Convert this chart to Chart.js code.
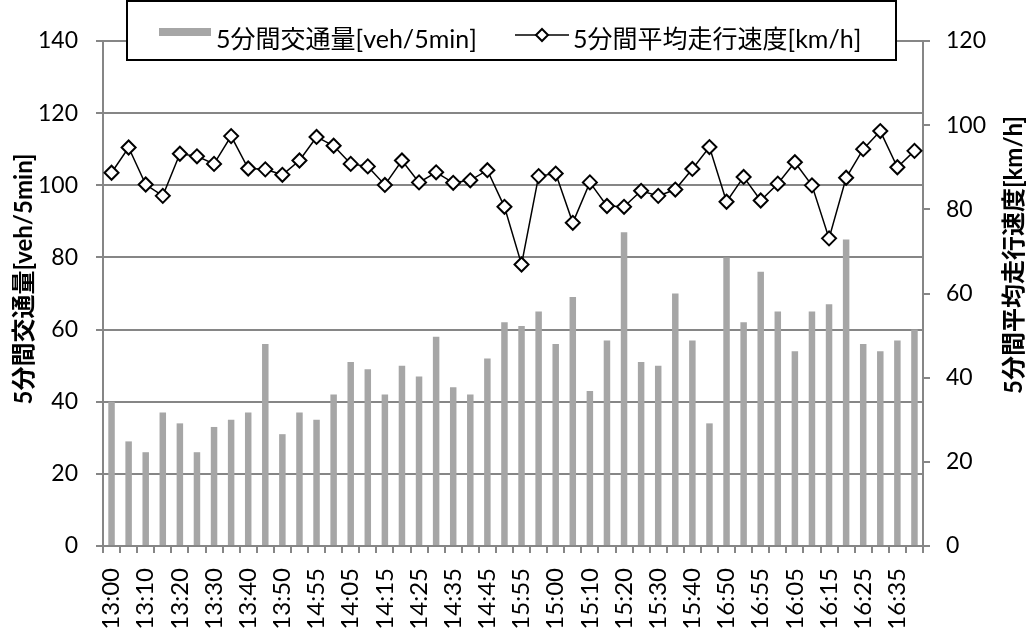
<!DOCTYPE html>
<html lang="ja">
<head>
<meta charset="utf-8">
<script src="https://cdn.jsdelivr.net/npm/chart.js@4.4.1/dist/chart.umd.min.js"></script>
<style>
  html, body { margin: 0; padding: 0; background: #fff; }
  #wrap { position: relative; width: 1029px; height: 637px; }
  #legend {
    position: absolute; left: 126px; top: 0; width: 767px; height: 57px;
    border: 2px solid #000; background: #fff;
    font-family: Lato, "Noto Sans CJK JP", sans-serif; font-size: 25px; color: #000;
  }
  #legend .item { position: absolute; top: 6px; height: 57px; display: flex; align-items: center; white-space: nowrap; }
  #legend .bar-swatch { width: 52px; height: 8px; background: #a6a6a6; margin-right: 5px; margin-top: -10px; }
  #legend canvas { margin-right: 4px; margin-top: -3px; }
</style>
</head>
<body>
<div id="wrap">
  <canvas id="chart" width="1029" height="637"></canvas>
  <div id="legend"></div>
</div>
<script>
const FONT = 'Lato, "Noto Sans CJK JP", sans-serif';

const volumeLabel = '5分間交通量[veh/5min]';
const speedLabel = '5分間平均走行速度[km/h]';

// 5-minute slots; only every other one is printed under the axis
const timeLabels = [
  '13:00', '13:05', '13:10', '13:15', '13:20', '13:25', '13:30', '13:35',
  '13:40', '13:45', '13:50', '13:55', '14:55', '14:00', '14:05', '14:10',
  '14:15', '14:20', '14:25', '14:30', '14:35', '14:40', '14:45', '14:50',
  '15:55', '15:50', '15:00', '15:05', '15:10', '15:15', '15:20', '15:25',
  '15:30', '15:35', '15:40', '15:45', '16:50', '16:45', '16:55', '16:00',
  '16:05', '16:10', '16:15', '16:20', '16:25', '16:30', '16:35', '16:40'
];

// traffic volume per 5 minutes [veh/5min]
const volume = [
  40, 29, 26, 37, 34, 26, 33, 35, 37, 56,
  31, 37, 35, 42, 51, 49, 42, 50, 47, 58,
  44, 42, 52, 62, 61, 65, 56, 69, 43, 57,
  87, 51, 50, 70, 57, 34, 80, 62, 76, 65,
  54, 65, 67, 85, 56, 54, 57, 60
];

// average running speed per 5 minutes [km/h]
const speed = [
  88.7, 94.7, 85.9, 83.2, 93.2, 92.6, 90.8, 97.4, 89.7, 89.5,
  88.2, 91.6, 97.2, 95.1, 90.8, 90.2, 85.8, 91.6, 86.4, 88.8,
  86.3, 86.9, 89.3, 80.6, 66.9, 87.9, 88.5, 76.8, 86.4, 80.8,
  80.6, 84.4, 83.2, 84.7, 89.6, 94.8, 81.8, 87.7, 82.1, 86.1,
  91.2, 85.7, 73.1, 87.5, 94.3, 98.6, 90.0, 93.9
];

const volumeTicks = { min: 0, max: 140, step: 20 };
const speedTicks = { min: 0, max: 120, step: 20 };

const AXIS_GREY = '#868686';

// both axis titles read bottom-to-top
const axisTitles = {
  id: 'axisTitles',
  afterDraw(chart) {
    const { ctx } = chart;
    ctx.save();
    ctx.font = 'bold 24px ' + FONT;
    ctx.fillStyle = '#000';
    ctx.textAlign = 'center';
    ctx.textBaseline = 'middle';
    [[24, 279, volumeLabel], [1014, 255, speedLabel]].forEach(([x, y, text]) => {
      ctx.save();
      ctx.translate(x, y);
      ctx.rotate(-Math.PI / 2);
      ctx.fillText(text, 0, 0);
      ctx.restore();
    });
    ctx.restore();
  }
};

const tickFont = { family: FONT, size: 23 };

const chart = new Chart(document.getElementById('chart'), {
  data: {
    labels: timeLabels,
    datasets: [
      {
        type: 'line',
        label: speedLabel,
        data: speed,
        yAxisID: 'ySpeed',
        borderColor: '#000',
        borderWidth: 1.5,
        tension: 0,
        pointStyle: 'rectRot',
        pointRadius: 7,
        pointBorderWidth: 2,
        pointBackgroundColor: '#fff',
        pointBorderColor: '#000',
        order: 0
      },
      {
        type: 'bar',
        label: volumeLabel,
        data: volume,
        yAxisID: 'yVolume',
        backgroundColor: '#a6a6a6',
        barPercentage: 0.38,
        categoryPercentage: 1,
        order: 1
      }
    ]
  },
  options: {
    responsive: false,
    animation: false,
    devicePixelRatio: 1,
    layout: { padding: { top: 41, left: 0, right: 0, bottom: 0 } },
    plugins: {
      legend: { display: false },
      tooltip: { enabled: false }
    },
    scales: {
      x: {
        afterFit: (s) => { s.height = 91; },
        grid: { offset: true, drawOnChartArea: false, color: AXIS_GREY, lineWidth: 2, tickLength: 7 },
        border: { color: AXIS_GREY, width: 2 },
        ticks: {
          autoSkip: false,
          minRotation: 90,
          maxRotation: 90,
          padding: 15,
          color: '#000',
          font: { family: FONT, size: 24 },
          callback: (v, i) => (i % 2 ? '' : timeLabels[i])
        }
      },
      yVolume: {
        position: 'left',
        min: volumeTicks.min,
        max: volumeTicks.max,
        afterFit: (s) => { s.width = 103; },
        grid: { color: AXIS_GREY, lineWidth: 2, tickLength: 7 },
        border: { color: AXIS_GREY, width: 2 },
        ticks: { stepSize: volumeTicks.step, padding: 18, color: '#000', font: tickFont }
      },
      ySpeed: {
        position: 'right',
        min: speedTicks.min,
        max: speedTicks.max,
        afterFit: (s) => { s.width = 106; },
        grid: { drawOnChartArea: false, color: AXIS_GREY, lineWidth: 2, tickLength: 7 },
        border: { color: AXIS_GREY, width: 2 },
        ticks: { stepSize: speedTicks.step, padding: 16, color: '#000', font: tickFont }
      }
    }
  },
  plugins: [axisTitles]
});

// legend box laid over the top of the plot
const legend = document.getElementById('legend');
const barItem = document.createElement('div');
barItem.className = 'item';
barItem.style.left = '31px';
barItem.innerHTML = '<span class="bar-swatch"></span>';
barItem.appendChild(document.createTextNode(volumeLabel));
legend.appendChild(barItem);

const lineItem = document.createElement('div');
lineItem.className = 'item';
lineItem.style.left = '387px';
const sw = document.createElement('canvas');
sw.width = 54; sw.height = 20;
const sctx = sw.getContext('2d');
sctx.strokeStyle = '#000';
sctx.lineWidth = 1.5;
sctx.beginPath(); sctx.moveTo(0, 10); sctx.lineTo(54, 10); sctx.stroke();
sctx.fillStyle = '#fff';
sctx.lineWidth = 2;
sctx.beginPath();
sctx.moveTo(27, 4); sctx.lineTo(33, 10); sctx.lineTo(27, 16); sctx.lineTo(21, 10); sctx.closePath();
sctx.fill(); sctx.stroke();
lineItem.appendChild(sw);
lineItem.appendChild(document.createTextNode(speedLabel));
legend.appendChild(lineItem);
</script>
</body>
</html>
